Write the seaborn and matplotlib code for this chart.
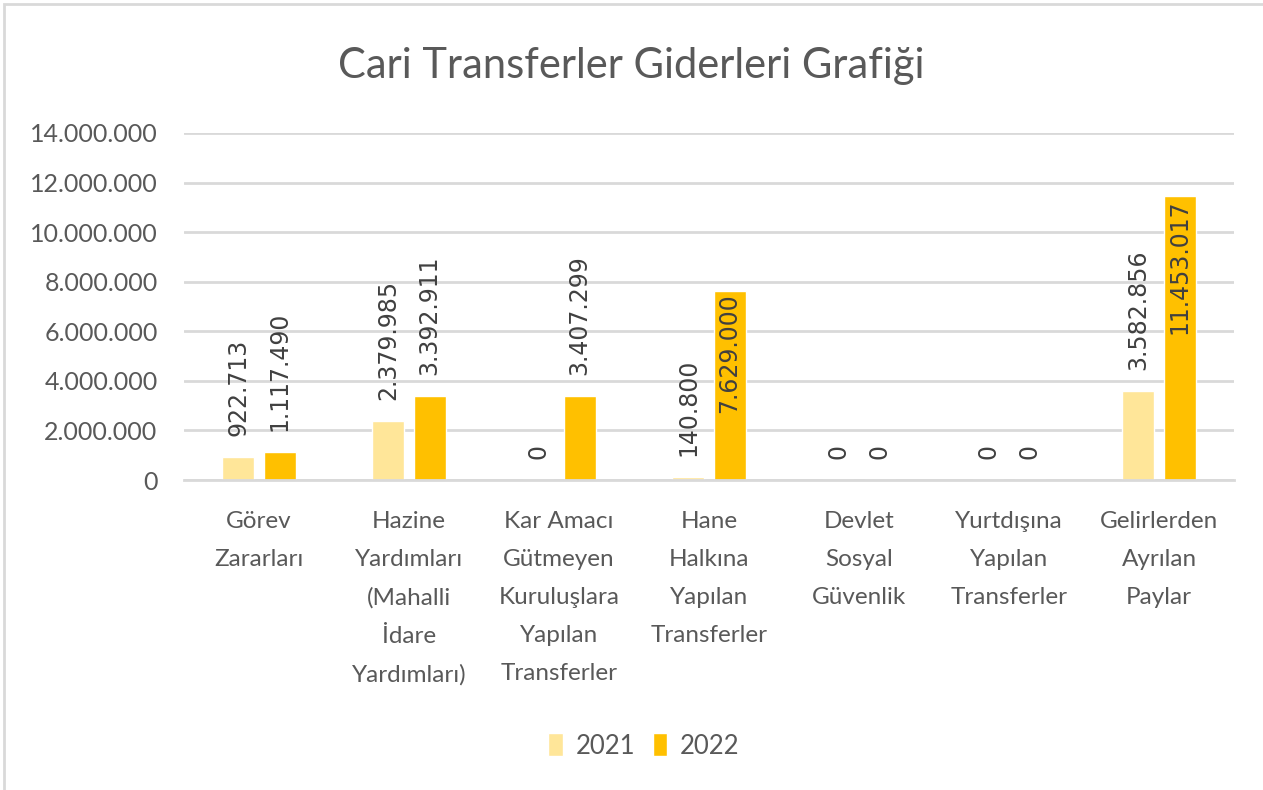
import pandas as pd
import matplotlib.pyplot as plt
import seaborn as sns
from matplotlib.patches import Rectangle

categories = [
    "Görev\nZararları",
    "Hazine\nYardımları\n(Mahalli\nİdare\nYardımları)",
    "Kar Amacı\nGütmeyen\nKuruluşlara\nYapılan\nTransferler",
    "Hane\nHalkına\nYapılan\nTransferler",
    "Devlet\nSosyal\nGüvenlik",
    "Yurtdışına\nYapılan\nTransferler",
    "Gelirlerden\nAyrılan\nPaylar",
]
values_2021 = [922713, 2379985, 0, 140800, 0, 0, 3582856]
values_2022 = [1117490, 3392911, 3407299, 7629000, 0, 0, 11453017]
years = ["2021", "2022"]
y_ticks = [0, 2000000, 4000000, 6000000, 8000000, 10000000, 12000000, 14000000]

df = pd.DataFrame({
    "kategori": categories * 2,
    "yil": [years[0]] * len(categories) + [years[1]] * len(categories),
    "deger": values_2021 + values_2022,
})


def tr_fmt(v):
    return f"{v:,.0f}".replace(",", ".")


sns.set_style("white")
plt.rcParams["font.family"] = ["Lato", "DejaVu Sans"]
text_col = "#595959"
grid_col = "#D9D9D9"

fig = plt.figure(figsize=(12.63, 7.9), dpi=100)
ax = fig.add_axes([184 / 1263, 1 - 480 / 790, 1050 / 1263, 347 / 790])

sns.barplot(data=df, x="kategori", y="deger", hue="yil",
            palette=["#FFE699", "#FFC000"], saturation=1,
            width=0.55, gap=0.22, ax=ax, legend=True)

ax.set_ylim(0, 14000000)
ax.set_xlim(-0.5, len(categories) - 0.5)
ax.set_yticks(y_ticks)
ax.set_yticklabels([tr_fmt(t) for t in y_ticks])
ax.set_xticks(range(len(categories)))
ax.set_xticklabels(categories, linespacing=2.0, va="top")
ax.yaxis.grid(True, color=grid_col, linewidth=2)
ax.set_axisbelow(True)
for s in ["top", "right", "left"]:
    ax.spines[s].set_visible(False)
ax.spines["bottom"].set_color(grid_col)
ax.spines["bottom"].set_linewidth(2)
ax.tick_params(axis="both", length=0, labelsize=18, colors=text_col)
ax.tick_params(axis="y", pad=19)
ax.tick_params(axis="x", pad=22, labelsize=17.5)
ax.set_xlabel("")
ax.set_ylabel("")

# data labels, rotated like the original
ymax = ax.get_ylim()[1]
for cont in ax.containers:
    for bar in cont:
        h = bar.get_height()
        xc = bar.get_x() + bar.get_width() / 2
        if h > 0.5 * ymax:
            ax.annotate(tr_fmt(h), (xc, h), xytext=(0, -2), textcoords="offset points",
                        rotation=90, ha="center", va="top", fontsize=17,
                        color="#404040", family="DejaVu Sans")
        else:
            ax.annotate(tr_fmt(h), (xc, h), xytext=(0, 15), textcoords="offset points",
                        rotation=90, ha="center", va="bottom", fontsize=17,
                        color="#404040", family="DejaVu Sans")

leg = ax.legend(loc="center", bbox_to_anchor=(644 / 1263, 1 - 746 / 790),
                bbox_transform=fig.transFigure, ncol=2, frameon=False,
                fontsize=18.5, handlelength=0.55, handleheight=1.0,
                handletextpad=0.5, columnspacing=0.7)
for t in leg.get_texts():
    t.set_color(text_col)

fig.text(0.5, 1 - 66 / 790, "Cari Transferler Giderleri Grafiği",
         ha="center", va="center", fontsize=30, color=text_col)

fig.patches.append(Rectangle((4 / 1263, -0.1), 1.2, 1.1 - 4 / 790,
                             transform=fig.transFigure, fill=False,
                             edgecolor=grid_col, linewidth=2))

fig.savefig("out.png", dpi=100)
